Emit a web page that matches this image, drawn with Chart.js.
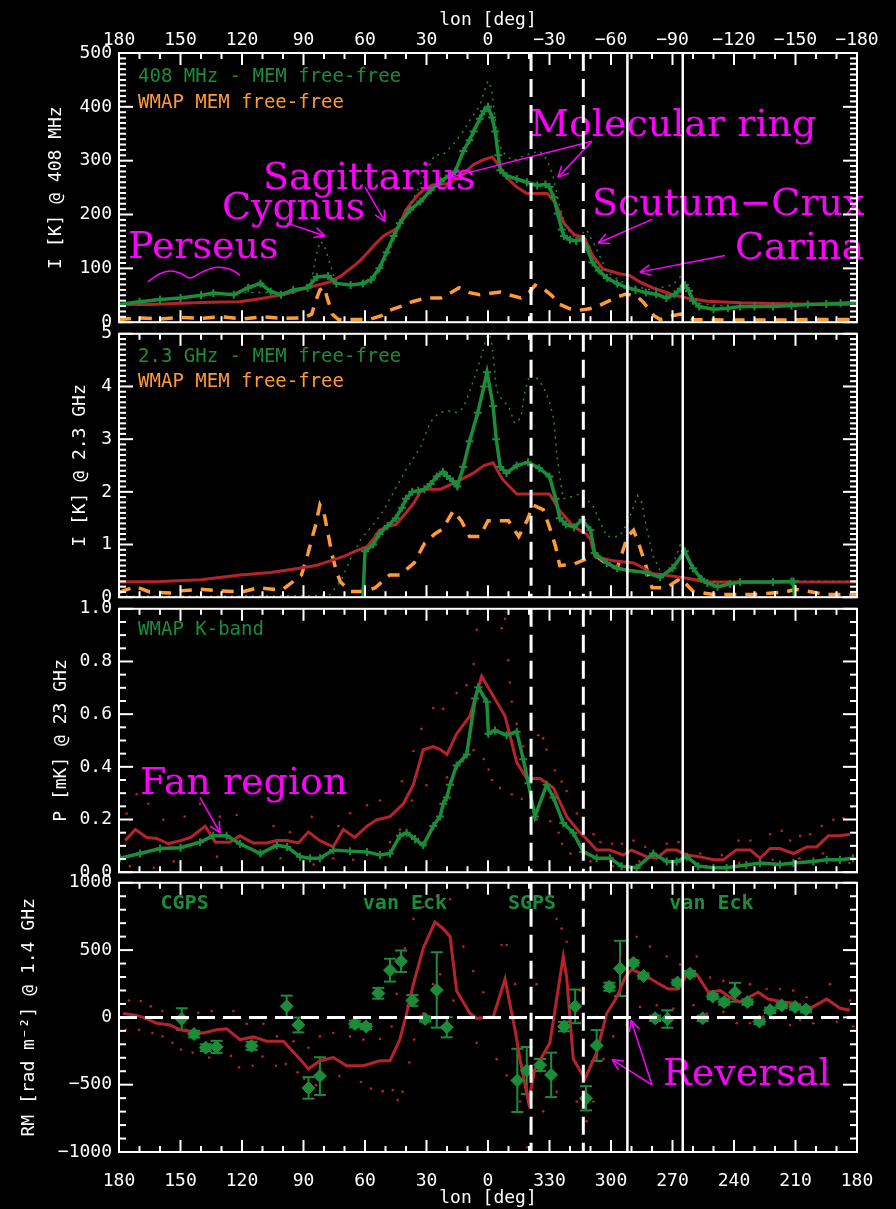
<!DOCTYPE html>
<html>
<head>
<meta charset="utf-8">
<script src="https://cdn.jsdelivr.net/npm/chart.js@4.4.1/dist/chart.umd.min.js"></script>
<style>
  html, body { margin: 0; background: #000; }
  #wrap { position: relative; width: 896px; height: 1209px; overflow: hidden; background: #000; }
  canvas { position: absolute; left: 0; }
</style>
</head>
<body>
<div id="wrap">
  <canvas id="p1" width="896" height="340" style="top:0px"></canvas>
  <canvas id="p2" width="896" height="299" style="top:316px"></canvas>
  <canvas id="p3" width="896" height="299" style="top:591px"></canvas>
  <canvas id="p4" width="896" height="344" style="top:865px"></canvas>
</div>
<script>
// ---- panel 1: 408 MHz (lon, value)
const mem408 = [[180,33],[170,38],[160,42],[150,45],[140,50],[134,54],[124,51],[117,64],[111,72],[106,57],[101,51],[95,60],[88,64],[83.5,84],[78,86],[74,72],[67,69],[61,72],[57,79],[53,100],[49.5,130],[46,160],[43,184],[38,209],[33,224],[28,245],[23,262],[19,272],[16,280],[12,318],[9,338],[7,354],[4,378],[2,392],[0,400],[-2,380],[-3.5,354],[-5,310],[-6,282],[-9,272],[-14,266],[-19,260],[-24,254],[-28,256],[-30,251],[-32,232],[-34,202],[-36,172],[-37,160],[-40,153],[-43,151],[-46,154],[-48,140],[-51,111],[-54,96],[-58,82],[-63,72],[-68,64],[-72,60],[-77,55],[-82,52],[-87,45],[-91,52],[-94,62],[-96,69],[-98,58],[-100,40],[-103,29],[-110,24],[-117,26],[-123,29],[-130,29],[-139,29],[-148,31],[-156,33],[-165,34],[-172,35],[-180,36]];
const raw408 = [[180,33],[150,46],[120,55],[100,55],[90,62],[86,80],[84,120],[82,150],[80,145],[78,120],[76,95],[74,72],[65,70],[55,82],[50,115],[45,160],[40,202],[35,240],[30,280],[27.5,299],[26,311],[22,311],[17,330],[12,355],[8,380],[4,402],[1.5,433],[0,448],[-1.8,433],[-2.6,406],[-4.2,354],[-6.7,318],[-12,300],[-18.9,311],[-25.4,318],[-29,300],[-31.9,269],[-34,230],[-37.6,178],[-43.3,154],[-48,172],[-53,136],[-58,93],[-68,69],[-80,60],[-90.4,70],[-93.7,84],[-97,65],[-102,35],[-120,28],[-150,32],[-180,36]];
const model408 = [[180,33],[165,33],[150,35],[135,37],[121,38],[112,43],[106,47],[99,52],[92,60],[85,67],[77,75],[72,85],[67,100],[63,112],[60,124],[55,145],[51,160],[45,173],[44,175],[40,209],[35,233],[31,248],[27,255],[20,257],[13,272],[7,293],[2,302],[-2,307],[-5,293],[-9,269],[-14,251],[-19,239],[-29,239],[-33,221],[-37,184],[-42,163],[-47,157],[-51,124],[-56,99],[-64,90],[-69,87],[-74,75],[-81,63],[-90,51],[-97,45],[-107,39],[-123,36],[-150,34],[-180,33]];
const wmapFF408 = [[180,5],[170,8],[160,6],[150,9],[140,7],[130,10],[120,6],[110,10],[100,7],[90,8],[86,15],[84,40],[82,60],[80,65],[78,40],[76,15],[73,5],[65,5],[58,5],[52,12],[48,22],[42,30],[37,38],[30,45],[23,45],[18,55],[14,64],[9,55],[4,51],[0,53],[-6,56],[-11,50],[-16,45],[-20,55],[-23,69],[-27,62],[-31,50],[-35,33],[-40,25],[-44,22],[-48,24],[-52,27],[-57,36],[-62,45],[-67,52],[-72,50],[-75,40],[-78,27],[-81,12],[-84,5],[-90,12],[-94,15],[-100,5],[-120,4],[-140,4],[-160,5],[-180,5]];
const perseusMark = [[165.9,75],[160,90],[155,95],[150,91],[145.4,82],[140,92],[135,100],[130.7,102],[125,97],[121,87]];

// ---- panel 2: 2.3 GHz
const mem23 = [[61,0],[60,0.87],[56,1.0],[53,1.2],[49,1.35],[45,1.5],[42,1.7],[40,1.87],[37,2.0],[34,2.02],[31,2.05],[28,2.15],[25,2.29],[22,2.38],[20,2.3],[17,2.2],[15,2.1],[12,2.47],[9,2.96],[5,3.5],[2,4.0],[0.5,4.27],[-2.5,3.63],[-4,3.0],[-6,2.47],[-9,2.36],[-14,2.5],[-19.5,2.56],[-25,2.45],[-30,2.29],[-33,1.87],[-35,1.5],[-38,1.38],[-42,1.33],[-46,1.47],[-50,1.27],[-52,0.84],[-58,0.65],[-63,0.55],[-68,0.51],[-77,0.47],[-84,0.38],[-90,0.55],[-96,0.87],[-100,0.55],[-104,0.35],[-107,0.27],[-112,0.2],[-118,0.25],[-123,0.29],[-139,0.29],[-148,0.3],[-149,0.3],[-149.5,0]];
const raw23 = [[180,0.02],[120,0.02],[85,0.03],[77,0.05],[74,0.2],[72,0.29],[67,0.73],[62,1.1],[56,1.38],[51,1.64],[46,2.0],[40,2.42],[33,2.84],[28,3.33],[24,3.5],[19.5,3.54],[15,3.5],[12,3.6],[9,3.9],[6,4.24],[3,4.6],[1,4.9],[0,5.0],[-1,4.95],[-2,4.78],[-4,4.0],[-5,3.84],[-8,3.7],[-10,3.63],[-13,3.3],[-16,3.4],[-18,3.9],[-20.5,4.24],[-24,4.15],[-27,4.0],[-30,3.7],[-32,3.4],[-33.5,2.72],[-36.6,1.87],[-40,1.9],[-45,1.96],[-51,1.75],[-55,1.4],[-58,1.15],[-64,1.15],[-68,1.4],[-73,1.93],[-75,1.8],[-77,1.38],[-80.5,0.78],[-84,0.5],[-87,0.42],[-91,0.7],[-94,1.02],[-97,0.8],[-100,0.55],[-107,0.29],[-130,0.28],[-150,0.32],[-155,0.3],[-180,0.3]];
const model23 = [[180,0.29],[160,0.3],[140,0.33],[121,0.42],[106,0.47],[92,0.55],[84,0.6],[77,0.69],[70,0.78],[65,0.87],[59,0.96],[55,1.15],[53,1.27],[49,1.35],[45,1.38],[40,1.6],[36,1.8],[33,2.0],[30,2.05],[23,2.05],[15,2.2],[7,2.36],[2,2.5],[-2.5,2.55],[-7,2.24],[-14,1.96],[-30,1.96],[-35,1.64],[-42,1.33],[-48,1.2],[-50,1.1],[-52,0.78],[-61,0.69],[-71,0.65],[-76,0.55],[-80,0.45],[-90,0.4],[-97,0.36],[-107,0.29],[-180,0.29]];
const wmapFF23 = [[180,0.09],[172,0.2],[165,0.1],[155,0.08],[150,0.12],[140,0.15],[130,0.12],[120,0.1],[112,0.18],[105,0.15],[100,0.15],[95,0.3],[91,0.42],[88,0.8],[86,1.1],[84,1.38],[82,1.75],[80,1.6],[78,1.2],[76,0.8],[74,0.5],[72,0.29],[67,0.11],[60,0.11],[55,0.18],[48,0.42],[43,0.42],[36,0.65],[31,1.02],[26,1.2],[22,1.3],[19,1.5],[17,1.64],[13,1.45],[9,1.15],[4,1.15],[0,1.45],[-5,1.45],[-10,1.45],[-15,1.15],[-19,1.45],[-22,1.75],[-27,1.66],[-30,1.33],[-33,0.96],[-35,0.6],[-42,0.63],[-48,0.73],[-53,0.78],[-58,0.62],[-63,0.55],[-68,1.15],[-71,1.27],[-74,0.96],[-77,0.6],[-80,0.18],[-87,0.18],[-94,0.36],[-100,0.11],[-110,0.05],[-130,0.05],[-145,0.1],[-150,0.15],[-155,0.12],[-165,0.05],[-180,0.05]];

// ---- panel 3: polarized intensity at 23 GHz
const kband = [[179.5,0.053],[169.8,0.071],[160,0.09],[150,0.093],[140.5,0.114],[134,0.138],[127.5,0.138],[121,0.108],[111,0.071],[103,0.102],[98,0.096],[91.7,0.059],[86.8,0.053],[82,0.053],[75.5,0.084],[67.3,0.08],[59,0.077],[52.7,0.065],[47.8,0.071],[43,0.138],[39.7,0.15],[35.6,0.126],[31.6,0.102],[26.7,0.175],[23.4,0.211],[21.8,0.26],[20.1,0.284],[18.5,0.332],[15.3,0.405],[10.4,0.447],[6.3,0.659],[4.7,0.702],[0.6,0.647],[-0.2,0.526],[-3.4,0.538],[-9.1,0.52],[-14,0.533],[-17.2,0.429],[-19.7,0.338],[-22.9,0.211],[-28.6,0.332],[-31.9,0.284],[-36.7,0.187],[-41.6,0.15],[-46.5,0.077],[-53,0.053],[-59.5,0.053],[-65.2,0.023],[-72.5,0.017],[-80.6,0.071],[-87.2,0.041],[-92,0.041],[-97,0.059],[-102.6,0.023],[-110,0.017],[-116.4,0.017],[-126,0.027],[-132.7,0.035],[-142.4,0.029],[-149,0.035],[-158.7,0.041],[-165.2,0.047],[-171.7,0.047],[-178,0.053]];
const pModel = [[177,0.12],[172,0.162],[166.5,0.132],[161.6,0.128],[156,0.108],[150,0.12],[145,0.132],[138,0.175],[133,0.114],[126,0.114],[121,0.138],[114.5,0.111],[108,0.111],[103,0.12],[98,0.12],[92.5,0.111],[87.6,0.153],[82,0.12],[75.5,0.096],[70.6,0.162],[65,0.132],[59,0.175],[54.3,0.199],[47.8,0.211],[41.3,0.26],[36.4,0.332],[31.6,0.465],[26.7,0.477],[23,0.465],[20,0.447],[15.3,0.526],[8.8,0.593],[3.1,0.744],[-8.3,0.593],[-14,0.417],[-18.9,0.356],[-25.4,0.356],[-31.9,0.32],[-38.4,0.211],[-44.9,0.15],[-48.1,0.126],[-53,0.084],[-59.5,0.084],[-66,0.065],[-70,0.084],[-77.4,0.059],[-82.3,0.053],[-87.2,0.084],[-92,0.084],[-97,0.065],[-103,0.059],[-110,0.047],[-114.8,0.047],[-121,0.084],[-128,0.084],[-132.7,0.053],[-137.6,0.09],[-142.4,0.09],[-149,0.071],[-155.5,0.096],[-160.3,0.096],[-166,0.138],[-171.7,0.138],[-176.6,0.144]];
const pModelHi = [[176.3,0.223],[171.4,0.296],[165.7,0.26],[158.4,0.199],[148,0.211],[140.5,0.26],[130.8,0.211],[122.6,0.217],[104.6,0.175],[96.6,0.152],[86,0.21],[73,0.175],[67.3,0.224],[59,0.254],[52.7,0.272],[42,0.345],[36.4,0.46],[32.5,0.544],[26.7,0.623],[21.8,0.62],[15.3,0.68],[10.4,0.71],[7,0.79],[5.5,0.92],[3.9,0.999],[-6.7,0.926],[-8.3,0.962],[-9.9,0.805],[-10.7,0.72],[-11.6,0.647],[-14,0.563],[-17.2,0.478],[-24.5,0.52],[-26.9,0.508],[-28.6,0.466],[-32.6,0.386],[-35.9,0.344],[-38.4,0.308],[-43.3,0.223],[-51.5,0.144],[-54.8,0.114],[-60.5,0.108],[-65.3,0.108],[-71,0.12],[-76.7,0.096],[-87.2,0.108],[-92.9,0.114],[-103.5,0.071],[-114.1,0.065],[-122.2,0.12],[-128,0.12],[-137.6,0.144],[-143.3,0.157],[-147.4,0.12],[-152.2,0.138],[-157.1,0.144],[-162.8,0.175],[-168.5,0.199],[-173.4,0.205],[-177.5,0.248]];
const pModelLo = [[174.7,0.023],[163,0.017],[153.3,0.041],[132.2,0.059],[111,0.065],[101.2,0.053],[85,0.029],[75.5,0.053],[65.8,0.047],[47.8,0.114],[43,0.162],[37.2,0.272],[30,0.33],[20,0.36],[12,0.42],[7,0.463],[2.1,0.43],[-0.3,0.39],[-1.9,0.35],[-5.9,0.32],[-11.6,0.296],[-16.5,0.278],[-23.9,0.2],[-30.4,0.193],[-34.5,0.15],[-36.1,0.108],[-40.2,0.071],[-50,0.041],[-61,0.023],[-73.8,0.041],[-93.4,0.041],[-106.4,0.023],[-122.6,0.035],[-138.9,0.047],[-151.9,0.053],[-163.3,0.071],[-176.3,0.035]];

// ---- panel 4: rotation measure (lon, RM[, error])
const rmModel = [[178,29],[172.2,17],[168.1,0],[161.6,-44],[155,-56],[150.2,-92],[145.4,-104],[138.9,-116],[132.4,-92],[127.5,-85],[121,-165],[114.5,-145],[108,-177],[99.8,-177],[91.7,-310],[87.6,-383],[82,-322],[75.5,-298],[69,-359],[60.8,-359],[52.7,-322],[47.8,-322],[43,-165],[39.7,29],[36.4,247],[31.6,514],[25.9,708],[21.8,659],[18.5,600],[15.3,198],[8.8,29],[5.5,-7],[-2.6,5],[-8.3,284],[-13.2,-92],[-15.6,-310],[-19.7,-625],[-22.9,-383],[-30.2,-189],[-36.7,453],[-38.4,296],[-41.6,-310],[-47.3,-456],[-53,-262],[-57.9,29],[-62.8,150],[-66.8,296],[-70.1,356],[-75.8,320],[-82.3,259],[-88,211],[-92.9,211],[-96.9,320],[-101.8,320],[-107.5,187],[-113.2,199],[-118,150],[-122.9,114],[-131.8,187],[-136.7,136],[-144,114],[-150.5,102],[-155.4,53],[-165.2,136],[-171.7,68],[-176.6,53]];
const rmHi = [[175.1,126],[169.4,121],[164.5,82],[158.8,48],[150.2,17],[141.3,34],[134.8,48],[124.2,48],[117.7,-48],[109.5,-48],[103,-141],[94.9,-177],[87.6,-226],[82,-141],[75.5,-116],[67.3,-141],[60.8,-165],[52.7,-160],[47,-68],[44.6,175],[40.5,514],[36.4,733],[31.6,820],[25,900],[18.5,878],[12,526],[7.2,344],[2.3,186],[-6.6,538],[-9.1,538],[-13.2,247],[-23.7,247],[-33.5,732],[-35.9,660],[-38.4,562],[-44.9,199],[-53,5],[-64.4,441],[-72.5,599],[-79,526],[-87.2,453],[-93.7,393],[-101.8,453],[-108.3,296],[-114.8,271],[-127.8,247],[-135.9,211],[-142.4,211],[-148.9,199],[-155.4,150],[-166.8,247],[-176.6,126]];
const rmLo = [[176.7,-93],[170.2,-93],[163.7,-116],[158.8,-141],[153.9,-189],[149.8,-238],[144.1,-262],[136,-298],[125.4,-286],[121.4,-371],[114.9,-359],[110,-291],[103.5,-359],[98.6,-347],[92.9,-407],[89.6,-456],[83.9,-504],[72.5,-436],[62,-480],[57.1,-528],[51.4,-548],[46.5,-540],[44.1,-613],[41.7,-553],[38.4,-335],[36,-165],[31.6,29],[26.8,247],[23.4,320],[16.9,126],[5.5,-189],[-4.2,-310],[-9.1,-432],[-15.6,-625],[-19.2,-965],[-26.9,-698],[-33.5,-553],[-43.3,-625],[-48.1,-771],[-51.4,-625],[-56.3,-310],[-61.1,-141],[-67.6,-56],[-74.1,78],[-82.3,90],[-90.4,66],[-100.2,90],[-106.7,29],[-114.8,41],[-121.3,-44],[-127.8,-44],[-134.3,5],[-139.2,-7],[-147.3,-56],[-152.2,-20],[-158.7,-44],[-170.1,-32],[-178.2,-68]];
const rmObs = [[149.4,-12,80],[143.4,-124,25],[137.7,-225,25],[132.4,-219,45],[115.3,-211,30],[98.2,82,80],[92.5,-56,55],[87.6,-524,80],[82,-436,140],[64.9,-49,25],[59.5,-68,20],[53.5,179,40],[47.8,351,85],[42.4,417,80],[36.9,126,40],[30.7,-12,20],[25,204,280],[20.1,-73,75],[-14.3,-468,235],[-18.9,-395,175],[-25.4,-354,45],[-30.8,-427,165],[-37.1,-68,35],[-42.5,82,125],[-47.8,-601,90],[-53,-209,115],[-59.2,228,30],[-64.4,364,205],[-70.9,405,20],[-75.8,308,20],[-81.5,-7,20],[-87.5,-12,65],[-92.4,259,20],[-98.5,325,20],[-104.7,-7,20],[-109.6,155,20],[-115.2,114,20],[-120.5,187,70],[-126.5,114,20],[-132.4,-31,20],[-137.6,53,20],[-143.3,89,20],[-149.8,78,20],[-155.1,58,20]];

// longitudes of the vertical guide lines
const dashedLon = [-21, -46.5];
const solidLon = [-68, -95];

const GREEN = '#1b8c3a', RED = '#b8232b', ORANGE = '#ff9a38', MAG = '#ff00ff';
const MONO = '"DejaVu Sans Mono"';
const SERIF = '38px "DejaVu Serif"';
const LEG = '19px ' + MONO;
const TAG = 'bold 20px ' + MONO;

const xy = a => a.map(p => ({ x: p[0], y: p[1] }));
const neg = v => (v < 0 ? '\u2212' + (-v) : String(v));

// per-panel decorations: tick steps, labels, arrows
const panels = {
  p1: {
    ymin: 0, ymax: 500, ymajor: 100, yminor: 10,
    texts: [
      ['408 MHz - MEM free-free', 170.7, 456, GREEN, LEG, 'left', 'middle'],
      ['WMAP MEM free-free', 170.7, 407, ORANGE, LEG, 'left', 'middle'],
      ['Molecular ring', -20.5, 345, MAG, SERIF, 'left', 'alphabetic'],
      ['Sagittarius', 109.8, 247, MAG, SERIF, 'left', 'alphabetic'],
      ['Cygnus', 129.8, 191, MAG, SERIF, 'left', 'alphabetic'],
      ['Perseus', 175.6, 120, MAG, SERIF, 'left', 'alphabetic'],
      ['Scutum\u2212Crux', -50.7, 200, MAG, SERIF, 'left', 'alphabetic'],
      ['Carina', -120.5, 118, MAG, SERIF, 'left', 'alphabetic']
    ],
    arrows: [[-50.7, 336, 18.5, 269], [-50.7, 336, -34.1, 269], [60, 251, 50.2, 187],
             [98, 184, 79.5, 160], [-80, 191, -53.7, 147], [-115.6, 124, -74.1, 93]]
  },
  p2: {
    ymin: 0, ymax: 5, ymajor: 1, yminor: 0.1,
    texts: [
      ['2.3 GHz - MEM free-free', 170.7, 4.56, GREEN, LEG, 'left', 'middle'],
      ['WMAP MEM free-free', 170.7, 4.09, ORANGE, LEG, 'left', 'middle']
    ],
    arrows: []
  },
  p3: {
    ymin: 0, ymax: 1, ymajor: 0.2, yminor: 0.05,
    texts: [
      ['WMAP K-band', 170.7, 0.92, GREEN, LEG, 'left', 'middle'],
      ['Fan region', 169.8, 0.295, MAG, SERIF, 'left', 'alphabetic']
    ],
    arrows: [[140.5, 0.284, 130.7, 0.149]]
  },
  p4: {
    ymin: -1000, ymax: 1000, ymajor: 500, yminor: 100, zeroLine: true, errors: rmObs,
    texts: [
      ['CGPS', 148, 844, GREEN, TAG, 'center', 'middle'],
      ['van Eck', 40.5, 844, GREEN, TAG, 'center', 'middle'],
      ['SGPS', -21.5, 844, GREEN, TAG, 'center', 'middle'],
      ['van Eck', -109, 844, GREEN, TAG, 'center', 'middle'],
      ['Reversal', -85.4, -502, MAG, SERIF, 'left', 'alphabetic']
    ],
    arrows: [[-80, -502, -60.5, -313], [-80, -502, -69.8, -22]]
  }
};

function seg(ctx, x1, y1, x2, y2) {
  ctx.beginPath(); ctx.moveTo(x1, y1); ctx.lineTo(x2, y2); ctx.stroke();
}

const frame = {
  id: 'frame',
  beforeDatasetsDraw(chart) {
    const p = panels[chart.canvas.id];
    if (!p.errors) return;
    const { ctx } = chart, x = chart.scales.x, y = chart.scales.y;
    ctx.save();
    ctx.strokeStyle = GREEN; ctx.lineWidth = 2;
    p.errors.forEach(e => {
      const px = x.getPixelForValue(e[0]);
      const yt = y.getPixelForValue(e[1] + e[2]), yb = y.getPixelForValue(e[1] - e[2]);
      seg(ctx, px, yt, px, yb);
      seg(ctx, px - 6, yt, px + 6, yt);
      seg(ctx, px - 6, yb, px + 6, yb);
    });
    ctx.restore();
  },
  afterDatasetsDraw(chart) {
    const p = panels[chart.canvas.id];
    const { ctx, chartArea: a } = chart, x = chart.scales.x, y = chart.scales.y;

    // labels and arrows (may run past the frame, like the original)
    ctx.save();
    p.texts.forEach(t => {
      ctx.font = t[4]; ctx.fillStyle = t[3]; ctx.textAlign = t[5]; ctx.textBaseline = t[6];
      ctx.fillText(t[0], x.getPixelForValue(t[1]), y.getPixelForValue(t[2]));
    });
    ctx.strokeStyle = MAG; ctx.lineWidth = 1.5;
    p.arrows.forEach(r => {
      const x1 = x.getPixelForValue(r[0]), y1 = y.getPixelForValue(r[1]);
      const x2 = x.getPixelForValue(r[2]), y2 = y.getPixelForValue(r[3]);
      seg(ctx, x1, y1, x2, y2);
      const ang = Math.atan2(y2 - y1, x2 - x1);
      [0.45, -0.45].forEach(d => {
        seg(ctx, x2, y2, x2 - 12 * Math.cos(ang + d), y2 - 12 * Math.sin(ang + d));
      });
    });
    ctx.restore();

    ctx.save();
    ctx.beginPath(); ctx.rect(a.left, a.top, a.right - a.left, a.bottom - a.top); ctx.clip();
    ctx.strokeStyle = '#fff';
    if (p.zeroLine) {
      ctx.lineWidth = 3; ctx.setLineDash([18, 8]);
      const py = y.getPixelForValue(0);
      seg(ctx, a.left, py, a.right, py);
    }
    // vertical guide lines
    ctx.lineWidth = 3; ctx.setLineDash([18, 8]);
    dashedLon.forEach(l => { const px = x.getPixelForValue(l); seg(ctx, px, a.top, px, a.bottom); });
    ctx.lineWidth = 2.5; ctx.setLineDash([]);
    solidLon.forEach(l => { const px = x.getPixelForValue(l); seg(ctx, px, a.top, px, a.bottom); });
    ctx.restore();

    // box with inward ticks
    ctx.save();
    ctx.strokeStyle = '#fff'; ctx.lineWidth = 2;
    ctx.strokeRect(a.left, a.top, a.right - a.left, a.bottom - a.top);
    for (let v = -180; v <= 180; v += 10) {
      const px = x.getPixelForValue(v), len = v % 30 === 0 ? 12 : 6;
      seg(ctx, px, a.top, px, a.top + len);
      seg(ctx, px, a.bottom, px, a.bottom - len);
    }
    const n = Math.round((p.ymax - p.ymin) / p.yminor);
    for (let i = 0; i <= n; i++) {
      const v = p.ymin + i * p.yminor, r = v / p.ymajor;
      const len = Math.abs(r - Math.round(r)) < 1e-6 ? 14 : 7;
      const py = y.getPixelForValue(v);
      seg(ctx, a.left, py, a.left + len, py);
      seg(ctx, a.right, py, a.right - len, py);
    }
    ctx.restore();
  }
};

const tickFont = { family: MONO, size: 18 };
const noGrid = { display: false, drawTicks: false };

function lonAxis(extra) {
  return Object.assign({ type: 'linear', min: -180, max: 180, reverse: true }, extra);
}

function options(o) {
  const scales = {
    x: lonAxis({ display: false }),
    y: {
      type: 'linear', min: o.ymin, max: o.ymax,
      grid: noGrid, border: { display: false },
      ticks: { stepSize: o.ystep, color: '#fff', font: tickFont, padding: 7, callback: o.yfmt },
      title: { display: true, text: o.ytitle, color: '#fff', font: tickFont, padding: { top: o.titleX, bottom: 0 } },
      afterFit: s => { s.width = 119; }
    },
    yr: {
      position: 'right', min: o.ymin, max: o.ymax,
      grid: noGrid, border: { display: false }, ticks: { display: false },
      afterFit: s => { s.width = 39; }
    }
  };
  if (o.top) {
    scales.xt = lonAxis({
      position: 'top',
      grid: noGrid, border: { display: false },
      ticks: { stepSize: 30, color: '#fff', font: tickFont, padding: 2, autoSkip: false, maxRotation: 0, callback: v => neg(v) },
      title: { display: true, text: 'lon [deg]', color: '#fff', font: tickFont, padding: { top: 10, bottom: 0 } },
      afterFit: s => { s.height = 53; }
    });
  }
  if (o.bottom) {
    scales.x = lonAxis({
      position: 'bottom',
      grid: noGrid, border: { display: false },
      ticks: { stepSize: 30, color: '#fff', font: tickFont, padding: 19, autoSkip: false, maxRotation: 0, callback: v => String(v < 0 ? v + 360 : v) },
      title: { display: true, text: 'lon [deg]', color: '#fff', font: tickFont, padding: { top: 0, bottom: 0 } },
      afterFit: s => { s.height = 57; }
    });
  }
  return {
    responsive: false, animation: false, events: [],
    layout: { padding: { top: o.top ? 0 : 12, bottom: o.bottom ? 0 : 12, left: 0, right: 0 } },
    plugins: { legend: { display: false }, tooltip: { enabled: false } },
    scales
  };
}

const solid = (data, color, w, marks) => ({
  data: xy(data), borderColor: color, borderWidth: w, tension: 0, fill: false,
  pointStyle: 'cross', pointRadius: marks ? (c => (c.raw && c.raw.y === 0 ? 0 : 4)) : 0,
  pointBorderColor: color, pointBorderWidth: 2
});
const dashed = (data, color, dash, w) => ({
  data: xy(data), borderColor: color, borderWidth: w, borderDash: dash, pointRadius: 0, tension: 0, fill: false
});
const dots = (data, color) => ({
  data: xy(data), showLine: false, pointRadius: 1.3, pointBackgroundColor: color, pointBorderWidth: 0
});

new Chart(document.getElementById('p1'), {
  type: 'line',
  data: { datasets: [
    solid(mem408, GREEN, 3.5, true),
    dashed(raw408, GREEN, [2, 5], 1.5),
    solid(model408, RED, 3, false),
    dashed(wmapFF408, ORANGE, [12, 9], 3.5),
    Object.assign(solid(perseusMark, MAG, 1.5, false), { tension: 0.4 })
  ] },
  options: options({ ymin: 0, ymax: 500, ystep: 100, yfmt: v => String(v), ytitle: 'I [K] @ 408 MHz', titleX: 46, top: true }),
  plugins: [frame]
});

new Chart(document.getElementById('p2'), {
  type: 'line',
  data: { datasets: [
    solid(mem23, GREEN, 3.5, true),
    dashed(raw23, GREEN, [2, 5], 1.5),
    solid(model23, RED, 3, false),
    dashed(wmapFF23, ORANGE, [12, 9], 3.5)
  ] },
  options: options({ ymin: 0, ymax: 5, ystep: 1, yfmt: v => String(v), ytitle: 'I [K] @ 2.3 GHz', titleX: 70 }),
  plugins: [frame]
});

new Chart(document.getElementById('p3'), {
  type: 'line',
  data: { datasets: [
    solid(kband, GREEN, 3.5, true),
    solid(pModel, RED, 3, false),
    dots(pModelHi, RED),
    dots(pModelLo, RED)
  ] },
  options: options({ ymin: 0, ymax: 1, ystep: 0.2, yfmt: v => v.toFixed(1), ytitle: 'P [mK] @ 23 GHz', titleX: 51 }),
  plugins: [frame]
});

new Chart(document.getElementById('p4'), {
  type: 'line',
  data: { datasets: [
    { data: xy(rmObs), showLine: false, pointStyle: 'rectRot', pointRadius: 6.5,
      pointBackgroundColor: GREEN, pointBorderColor: GREEN, pointBorderWidth: 1 },
    solid(rmModel, RED, 3, false),
    dots(rmHi, RED),
    dots(rmLo, RED)
  ] },
  options: options({ ymin: -1000, ymax: 1000, ystep: 500, yfmt: v => neg(v), ytitle: 'RM [rad m\u207B\u00B2] @ 1.4 GHz', titleX: 19, bottom: true }),
  plugins: [frame]
});
</script>
</body>
</html>
